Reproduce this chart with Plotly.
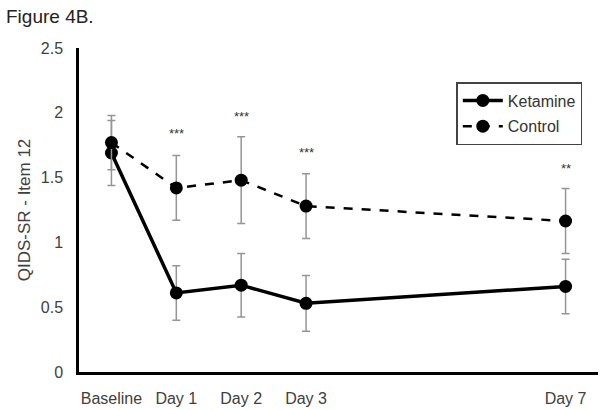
import plotly.graph_objects as go

# days since baseline, labels shown on the x axis
days = [0, 1, 2, 3, 7]
day_labels = ["Baseline", "Day 1", "Day 2", "Day 3", "Day 7"]

ketamine = [1.69, 0.61, 0.67, 0.53, 0.66]
ketamine_err = [0.25, 0.21, 0.245, 0.215, 0.21]

control = [1.77, 1.42, 1.48, 1.28, 1.165]
control_err = [0.21, 0.25, 0.335, 0.25, 0.25]

# significance marks above the control error bars
sig_days = [1, 2, 3, 7]
sig_text = ["***", "***", "***", "**"]
sig_y = [1.84, 1.975, 1.69, 1.57]

FONT = "Liberation Sans, Arial, sans-serif"


def plot_fig():
    fig = go.Figure()

    err_style = dict(type="data", visible=True, color="#959595", thickness=1.5, width=4)

    fig.add_trace(
        go.Scatter(
            x=days,
            y=ketamine,
            name="Ketamine",
            legendgroup="k",
            mode="lines+markers",
            line=dict(color="black", width=3.5),
            marker=dict(color="black", size=13),
            error_y=dict(array=ketamine_err, **err_style),
        )
    )
    fig.add_trace(
        go.Scatter(
            x=days,
            y=control,
            name="Control",
            legendgroup="c",
            mode="lines+markers",
            line=dict(color="black", width=2.5, dash="dash"),
            marker=dict(color="black", size=13),
            error_y=dict(array=control_err, **err_style),
        )
    )

    for d, t, y in zip(sig_days, sig_text, sig_y):
        fig.add_annotation(
            x=d, y=y, text=t, showarrow=False,
            font=dict(family=FONT, size=13, color="#333333"),
        )

    fig.add_annotation(
        x=0, y=1, xref="paper", yref="paper", xanchor="left", yanchor="top",
        xshift=-75, yshift=44, text="Figure 4B.", showarrow=False,
        font=dict(family=FONT, size=19, color="#222222"),
    )

    fig.update_xaxes(
        range=[-0.5, 7.5],
        tickvals=days,
        ticktext=day_labels,
        showline=True, linecolor="black", linewidth=2.5,
        showgrid=False, zeroline=False, ticks="",
        automargin=False, ticklabelstandoff=10,
        tickfont=dict(family=FONT, size=16, color="#404040"),
    )
    fig.update_yaxes(
        range=[0, 2.5],
        dtick=0.5,
        showline=True, linecolor="black", linewidth=2.5,
        showgrid=False, zeroline=False, ticks="",
        automargin=False, ticklabelstandoff=10,
        tickfont=dict(family=FONT, size=16, color="#404040"),
        title=dict(text="QIDS-SR - Item 12", font=dict(family=FONT, size=17, color="#404040"), standoff=6),
    )

    fig.update_layout(
        width=604,
        height=410,
        margin=dict(l=79, r=6, t=48, b=38),
        plot_bgcolor="white",
        paper_bgcolor="white",
        font=dict(family=FONT),
        legend=dict(
            x=0.727, y=0.895, xanchor="left", yanchor="top",
            bordercolor="#444444", borderwidth=1.5,
            font=dict(family=FONT, size=16, color="#333333"),
            bgcolor="white",
            itemwidth=40,
            tracegroupgap=2,
            traceorder="grouped",
        ),
    )

    # drop the browser's default page margin so the figure sits at the corner
    fig.write_html(
        "out.html",
        config={"displayModeBar": False},
        post_script="document.body.style.margin='0';",
    )


if __name__ == "__main__":
    plot_fig()
